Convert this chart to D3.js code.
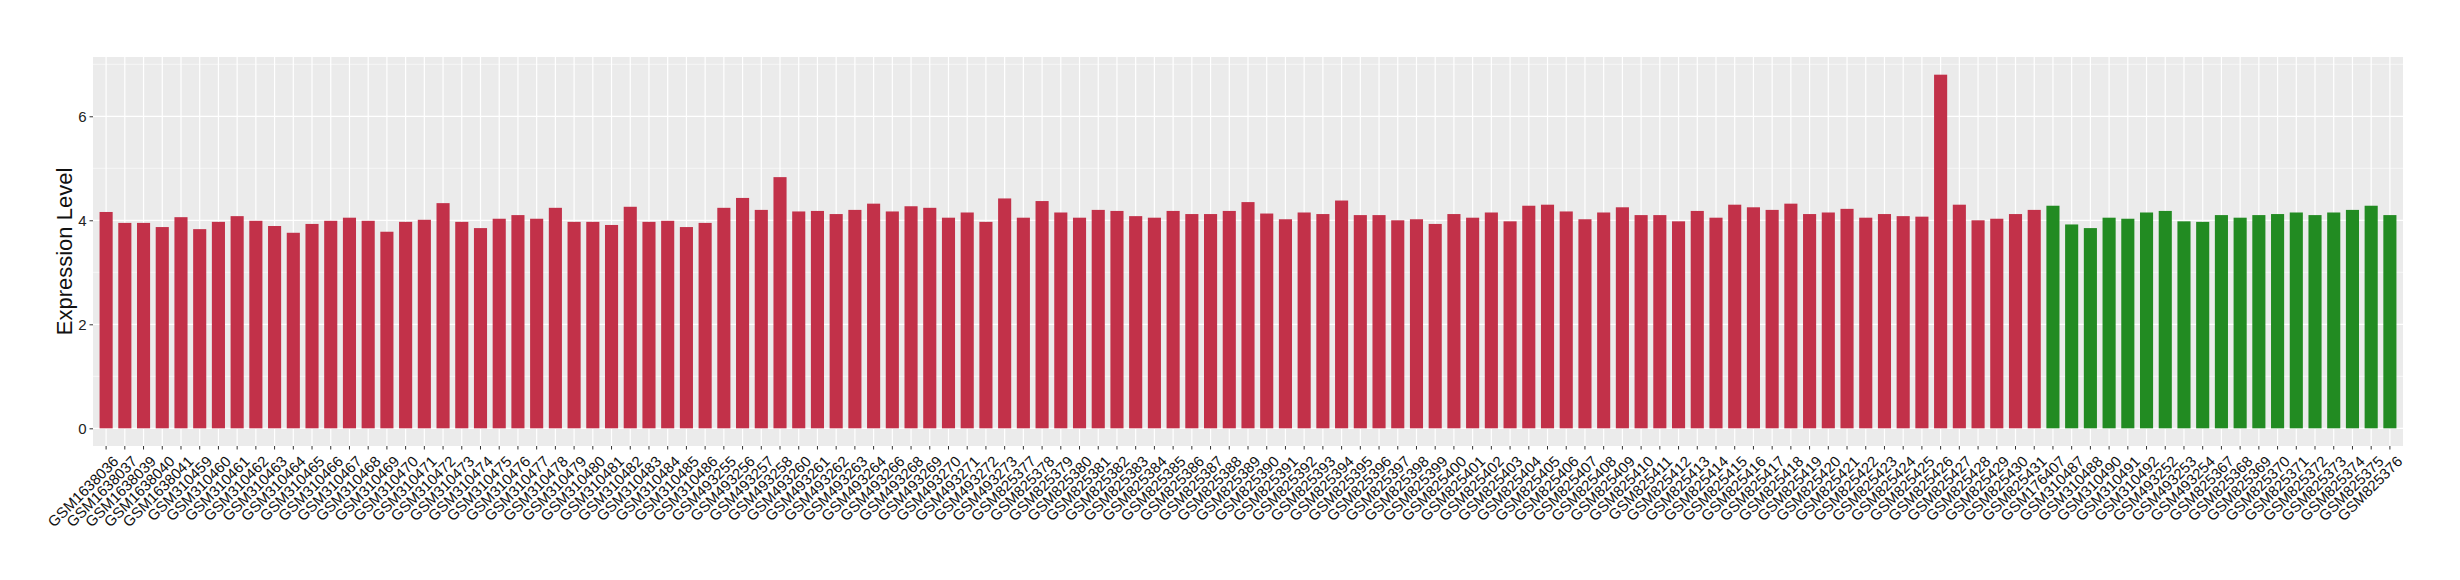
<!DOCTYPE html>
<html><head><meta charset="utf-8">
<script src="https://cdn.jsdelivr.net/npm/d3@7"></script>
<style>body{margin:0;background:#fff;} svg{display:block;}</style>
</head><body>
<svg id="chart" width="2460" height="580"></svg>
<script>
const samples = [
"GSM1638036","GSM1638037","GSM1638039","GSM1638040","GSM1638041",
"GSM310459","GSM310460","GSM310461","GSM310462","GSM310463","GSM310464","GSM310465","GSM310466","GSM310467","GSM310468","GSM310469","GSM310470","GSM310471","GSM310472","GSM310473","GSM310474","GSM310475","GSM310476","GSM310477","GSM310478","GSM310479","GSM310480","GSM310481","GSM310482","GSM310483","GSM310484","GSM310485","GSM310486",
"GSM493255","GSM493256","GSM493257","GSM493258",
"GSM493260","GSM493261","GSM493262","GSM493263","GSM493264","GSM493266","GSM493268","GSM493269","GSM493270","GSM493271","GSM493272","GSM493273",
"GSM825377","GSM825378","GSM825379","GSM825380","GSM825381","GSM825382","GSM825383","GSM825384","GSM825385","GSM825386","GSM825387","GSM825388","GSM825389","GSM825390","GSM825391","GSM825392","GSM825393","GSM825394","GSM825395","GSM825396","GSM825397","GSM825398","GSM825399","GSM825400","GSM825401","GSM825402","GSM825403","GSM825404","GSM825405","GSM825406","GSM825407","GSM825408","GSM825409","GSM825410","GSM825411","GSM825412","GSM825413","GSM825414","GSM825415","GSM825416","GSM825417","GSM825418","GSM825419","GSM825420","GSM825421","GSM825422","GSM825423","GSM825424","GSM825425","GSM825426","GSM825427","GSM825428","GSM825429","GSM825430","GSM825431",
"GSM176407","GSM310487","GSM310488","GSM310490","GSM310491","GSM310492","GSM493252","GSM493253","GSM493254","GSM825367","GSM825368","GSM825369","GSM825370","GSM825371","GSM825372","GSM825373","GSM825374","GSM825375","GSM825376"
];
const values = [
4.16,3.95,3.95,3.87,4.06,3.83,3.97,4.08,3.99,3.89,3.76,
3.93,3.99,4.05,3.99,3.78,3.97,4.01,4.33,3.97,3.85,4.03,4.10,4.03,4.24,3.97,3.97,3.91,4.26,3.97,3.99,3.87,3.95,
4.24,4.43,4.20,4.83,
4.17,4.18,4.12,4.20,4.32,4.17,4.27,4.24,4.05,4.15,3.97,4.42,
4.05,4.37,4.15,4.05,4.20,4.18,4.08,4.05,4.18,4.12,4.12,4.18,4.35,4.13,4.02,4.15,4.12,4.38,4.10,4.10,4.00,4.02,3.93,4.12,4.05,4.15,3.98,4.28,4.30,4.17,4.02,4.15,4.25,4.10,4.10,3.98,4.18,4.05,4.30,4.25,4.20,4.32,4.12,4.15,4.22,4.05,4.12,4.08,4.07,6.80,4.30,4.00,4.03,4.12,4.20,
4.28,3.92,3.85,4.05,4.03,4.15,4.18,3.98,3.97,4.10,4.05,4.10,4.12,4.15,4.10,4.15,4.20,4.28,4.10
];
const groups = samples.map((s,i)=> i < 104 ? "A" : "B");
const groupColors = {A:"#C23149", B:"#228B22"};
const yTicks = [0,2,4,6];
const yMinor = [1,3,5,7];
const yTitle = "Expression Level";

const svg = d3.select("#chart");
const P = {left:93, right:2403, top:57, bottom:446};
const data = samples.map((s,i)=>({s, v:values[i], g:groups[i]}));
const vmax = d3.max(values);
const ex = vmax*0.05;
const y = d3.scaleLinear().domain([-ex, vmax+ex]).range([P.bottom, P.top]);
const n = samples.length;
const step = (P.right-P.left)/(n-1+1.2);
const x = d3.scaleBand().domain(samples).range([P.left+0.1*step, P.right-0.1*step]).paddingInner(0.3).paddingOuter(0.25);
const xc = d => x(d)+x.bandwidth()/2;

svg.append("rect").attr("x",P.left).attr("y",P.top).attr("width",P.right-P.left).attr("height",P.bottom-P.top).attr("fill","#EBEBEB");
const g = svg.append("g");
g.selectAll("line.ymin").data(yMinor).join("line").attr("x1",P.left).attr("x2",P.right)
 .attr("y1",d=>y(d)).attr("y2",d=>y(d)).attr("stroke","#fff").attr("stroke-width",0.6);
g.selectAll("line.ymaj").data(yTicks).join("line").attr("x1",P.left).attr("x2",P.right)
 .attr("y1",d=>y(d)).attr("y2",d=>y(d)).attr("stroke","#fff").attr("stroke-width",1.2);
g.selectAll("line.xmaj").data(samples).join("line").attr("y1",P.top).attr("y2",P.bottom)
 .attr("x1",d=>xc(d)).attr("x2",d=>xc(d)).attr("stroke","#fff").attr("stroke-width",1.2);

svg.append("g").selectAll("rect").data(data).join("rect")
 .attr("x",d=>x(d.s)).attr("width",x.bandwidth())
 .attr("y",d=>y(d.v)).attr("height",d=>y(0)-y(d.v))
 .attr("fill",d=>groupColors[d.g]);

// y axis
const ya = svg.append("g").attr("transform",`translate(${P.left},0)`)
 .call(d3.axisLeft(y).tickValues(yTicks).tickSize(3.5).tickPadding(3).tickFormat(d3.format("d")));
ya.select(".domain").remove();
ya.selectAll("line").attr("stroke","#333");
ya.selectAll("text").attr("font-family","Liberation Sans, Arial, sans-serif").attr("font-size",15).attr("fill","#222");

// x axis
const xa = svg.append("g").attr("transform",`translate(0,${P.bottom})`)
 .call(d3.axisBottom(x).tickSize(3.5).tickPadding(0));
xa.select(".domain").remove();
xa.selectAll("line").attr("stroke","#333");
xa.selectAll("text").attr("font-family","Liberation Sans, Arial, sans-serif").attr("font-size",15).attr("fill","#111")
 .attr("text-anchor","end").attr("dy",null).attr("y",null)
 .attr("transform","translate(6,9) rotate(-45)").attr("dy","0.7em");

svg.append("text").attr("transform",`translate(72,${(P.top+P.bottom)/2}) rotate(-90)`)
 .attr("text-anchor","middle").attr("font-family","Liberation Sans, Arial, sans-serif").attr("font-size",22).attr("fill","#111")
 .text(yTitle);
</script>
</body></html>
